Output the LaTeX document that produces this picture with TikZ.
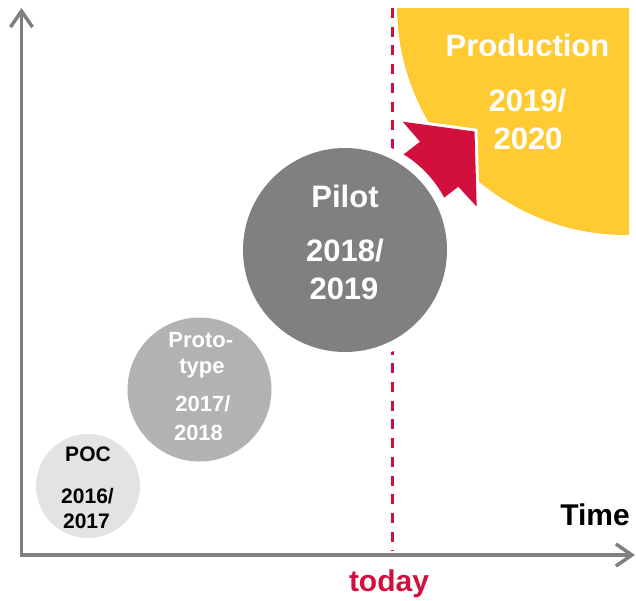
\documentclass[tikz,border=0pt]{standalone}
\usepackage{fontspec}
\setmainfont{Liberation Sans}
\usetikzlibrary{arrows.meta}
\definecolor{axisgray}{HTML}{7F7F7F}
\definecolor{pocgray}{HTML}{E3E3E3}
\definecolor{protogray}{HTML}{B2B2B2}
\definecolor{pilotgray}{HTML}{808080}
\definecolor{prodyellow}{HTML}{FFCB33}
\definecolor{todayred}{HTML}{D2103E}
\begin{document}
\begin{tikzpicture}[x=1pt,y=-1pt,
  axisline/.style={draw=axisgray, line width=3.5pt, line join=miter,
    {Straight Barb[length=16pt,width=22pt]}-{Straight Barb[length=16pt,width=22pt]}},
  todayline/.style={draw=todayred, line width=3pt, dash pattern=on 10pt off 8.7pt},
  bubble/.style={circle, inner sep=0pt, outer sep=0pt, draw=none},
  lbl/.style={anchor=base, inner sep=0pt, outer sep=0pt},
  bigtxt/.style={lbl, text=white, font=\fontsize{31}{31}\selectfont\bfseries},
  midtxt/.style={lbl, text=white, font=\fontsize{22}{22}\selectfont\bfseries},
  smalltxt/.style={lbl, text=black, font=\fontsize{21}{21}\selectfont\bfseries},
  axistxt/.style={lbl, font=\fontsize{30}{30}\selectfont\bfseries}]
\useasboundingbox (0,0) rectangle (636,600);

% axes
\coordinate (ytop) at (21.5,8);
\coordinate (xend) at (635,555);
\draw[axisline] (ytop) |- (xend);

% today line
\coordinate (dtop) at (392,8);
\coordinate (dbot) at (392,551);
\draw[todayline] (dtop) -- (dbot);

% production area
\begin{scope}
  \clip (393,8.3) rectangle (629,240);
  \fill[prodyellow] (626,6) circle[radius=229pt];
\end{scope}

% red arrow
\coordinate (atip) at (474.5,131.5);
\coordinate (ab1) at (402.7,121.7);
\coordinate (an1) at (420,141.7);
\coordinate (at1) at (400,157.2);
\coordinate (at2) at (438.3,202.2);
\coordinate (an2) at (458.3,186.7);
\coordinate (ab2) at (476.7,206.7);
\draw[white, line width=6pt, line join=miter] (atip) -- (ab1) -- (an1) -- (at1) -- (at2) -- (an2) -- (ab2) -- cycle;
\fill[todayred] (atip) -- (ab1) -- (an1) -- (at1) -- (at2) -- (an2) -- (ab2) -- cycle;

% circles
\node[bubble, fill=pocgray, minimum size=104pt] (poc) at (88,486) {};
\node[bubble, fill=protogray, minimum size=144pt] (proto) at (199.5,389.5) {};
\node[bubble, fill=white, minimum size=224pt] (pilotHalo) at (345,250) {};
\node[bubble, fill=pilotgray, minimum size=204pt] (pilot) at (345,250) {};

% texts
\node[smalltxt] (pocA) at (88,461) {POC};
\node[smalltxt] (pocB) at (87.5,503.3) {2016/};
\node[smalltxt] (pocC) at (86.5,528.3) {2017};

\node[midtxt] (protoA) at (200.8,347.3) {Proto-};
\node[midtxt] (protoB) at (202,373.3) {type};
\node[midtxt] (protoC) at (203,411.7) {2017/};
\node[midtxt] (protoD) at (198.5,440.7) {2018};

\node[bigtxt] (pilotA) at (345,207.7) {Pilot};
\node[bigtxt] (pilotB) at (345,261.7) {2018/};
\node[bigtxt] (pilotC) at (344,299.3) {2019};

\node[bigtxt] (prodA) at (527.5,56.7) {Production};
\node[bigtxt] (prodB) at (527.5,111.7) {2019/};
\node[bigtxt] (prodC) at (528,149) {2020};

\node[axistxt, text=todayred] (today) at (389,591) {today};
\node[axistxt, text=black] (time) at (595,525) {Time};
\end{tikzpicture}
\end{document}
